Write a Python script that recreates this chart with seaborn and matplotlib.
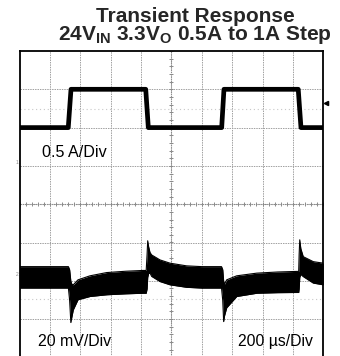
import numpy as np
import pandas as pd
import matplotlib
matplotlib.use("Agg")
import matplotlib.pyplot as plt
import seaborn as sns

# ---- captured waveforms -------------------------------------------------
# Channel 1: load current (A) vs time (us)
i_time = [0, 321, 339, 831, 848, 1331, 1346, 1835, 1853, 2000]
i_amps = [0.5, 0.5, 1.0, 1.0, 0.5, 0.5, 1.0, 1.0, 0.5, 0.5]

# Channel 2: output voltage deviation (mV), AC coupled, shown as the
# upper / lower envelope of the noisy trace
v_time = [0, 322, 330, 338, 344, 354, 385, 464, 574, 700, 813, 834,
          840, 844, 850, 859, 870, 925, 991, 1100, 1200, 1330,
          1338, 1344, 1350, 1364, 1430, 1562, 1700, 1825, 1838,
          1841, 1845, 1852, 1868, 1934, 2000]
v_upper = [5.6, 5.6, 4.0, -2.0, -3.5, -3.9, -1.3, 0.8, 2.5, 3.2, 3.6, 3.6,
           12.0, 19.1, 16.0, 13.0, 11.7, 9.1, 7.4, 6.0, 5.6, 5.6,
           4.0, -2.0, -3.5, -1.3, 0.8, 2.2, 2.8, 3.1, 3.1,
           12.0, 19.6, 15.0, 10.8, 8.2, 7.4]
v_lower = [-5.6, -5.6, -12.0, -23.6, -21.0, -17.0, -11.7, -10.0, -9.1, -8.6, -8.3, -8.3,
           -6.0, 0.0, 2.0, 2.3, 0.5, -2.2, -3.9, -5.2, -5.6, -5.6,
           -12.0, -23.1, -20.0, -15.9, -10.0, -8.3, -8.0, -7.9, -7.9,
           -6.0, 0.0, 1.5, 0.4, -3.0, -3.9]

trigger_level_a = 0.82

# ---- scope settings -------------------------------------------------------
time_per_div = 200.0      # us/div
amps_per_div = 0.5        # A/div
mv_per_div = 20.0         # mV/div
ch1_ground_div = 1.0      # channel 1 zero position (divisions)
ch2_ref_div = -1.91       # channel 2 reference position (divisions)

sns.set_theme(style="white")
plt.rcParams["font.family"] = ["Liberation Sans", "DejaVu Sans"]
plt.rcParams["mathtext.fontset"] = "custom"
plt.rcParams["mathtext.rm"] = "Liberation Sans"
plt.rcParams["mathtext.bf"] = "Liberation Sans:bold"

W, H = 340, 356
fig = plt.figure(figsize=(W / 100, H / 100), dpi=100)
fig.patch.set_facecolor("white")

left_px, right_px, top_px, bottom_px = 19.5, 323.3, 51.0, 357.4
ax = fig.add_axes([left_px / W, (H - bottom_px) / H,
                   (right_px - left_px) / W, (bottom_px - top_px) / H])
ax.set_facecolor("white")

xmax = 10 * time_per_div
ax.set_xlim(0, xmax)
ax.set_ylim(-4, 4)

# graticule
for k in range(1, 10):
    ax.axvline(k * time_per_div, color="#a0a0a0", lw=0.7, ls=(0, (1.5, 1.0)), zorder=1)
for k in range(-3, 4):
    ax.axhline(k, color="#a0a0a0", lw=0.7, ls=(0, (1.5, 1.0)), zorder=1)
ax.axhline(0, color="#8a8a8a", lw=0.8, ls=(0, (1.0, 1.0)), zorder=1)
ax.axvline(xmax / 2, color="#8a8a8a", lw=0.8, ls=(0, (1.0, 1.0)), zorder=1)
minor_x = np.arange(0, xmax + 1, time_per_div / 5)
minor_y = np.arange(-4, 4.01, 0.2)
ax.plot(minor_x, np.zeros_like(minor_x), ls="none", marker="|", ms=3.5,
        mew=0.7, color="#8a8a8a", zorder=1)
ax.plot(np.full_like(minor_y, xmax / 2), minor_y, ls="none", marker="_", ms=3.5,
        mew=0.7, color="#8a8a8a", zorder=1)
# faint reference cursors
for yc in (2.49, -2.47):
    ax.axhline(yc, color="#c8c8c8", lw=0.8, ls=(0, (1.0, 2.5)), zorder=1)

# channel 1: load current
df_i = pd.DataFrame({"t": i_time, "pos": np.array(i_amps) / amps_per_div + ch1_ground_div})
sns.lineplot(data=df_i, x="t", y="pos", ax=ax, color="black", lw=3.4,
             sort=False, estimator=None, zorder=3)

# channel 2: output voltage band
vt = np.array(v_time, dtype=float)
vu = np.array(v_upper) / mv_per_div + ch2_ref_div
vl = np.array(v_lower) / mv_per_div + ch2_ref_div
ax.fill_between(vt, vl, vu, color="black", lw=0, zorder=3)
df_v = pd.DataFrame({"t": np.concatenate([vt, vt]),
                     "pos": np.concatenate([vu, vl]),
                     "edge": ["upper"] * len(vt) + ["lower"] * len(vt)})
sns.lineplot(data=df_v, x="t", y="pos", units="edge", estimator=None, ax=ax,
             color="black", lw=0.8, sort=False, zorder=3)

# trigger level marker on the right edge
ax.plot([xmax * 1.009], [trigger_level_a / amps_per_div + ch1_ground_div],
        marker="<", ms=3, color="black", clip_on=False, zorder=4)

ax.set_xticks([])
ax.set_yticks([])
ax.set_xlabel("")
ax.set_ylabel("")
for s in ax.spines.values():
    s.set_color("black")
    s.set_linewidth(1.3)

# channel markers on the left edge
fig.text(17 / W, 1 - 163 / H, "1", fontsize=3.5, color="#888888", ha="center", va="center")
fig.text(17 / W, 1 - 274 / H, "2", fontsize=3.5, color="#888888", ha="center", va="center")

# scale annotations
fig.text(42 / W, 1 - 157 / H, "0.5 A/Div", fontsize=11.6, color="black",
         ha="left", va="baseline")
fig.text(38 / W, 1 - 345.7 / H, "20 mV/Div", fontsize=11.4, color="black",
         ha="left", va="baseline")
fig.text(313 / W, 1 - 345.7 / H, "200 \u00b5s/Div", fontsize=11.3, color="black",
         ha="right", va="baseline")

# title (two lines in one text block)
fig.text(195 / W, 1 - 40.5 / H,
         "Transient Response\n" r"24V$_{\mathbf{IN}}$ 3.3V$_{\mathbf{O}}$ 0.5A to 1A Step",
         fontsize=15, fontweight="bold", ha="center", va="baseline",
         linespacing=0.9, multialignment="center")

fig.savefig("out.png", dpi=100, facecolor="white")
